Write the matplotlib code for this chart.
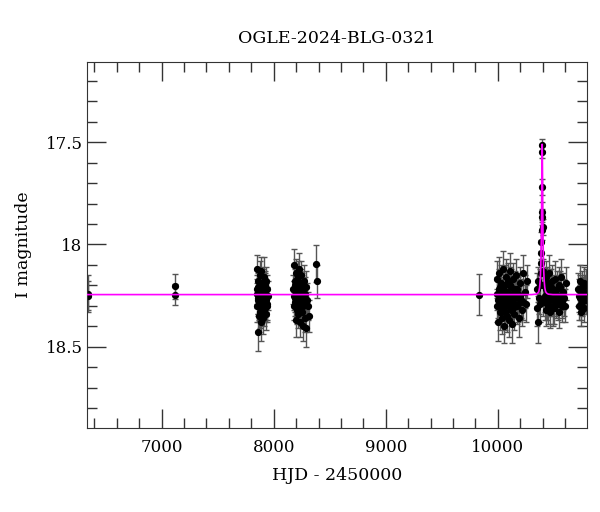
import matplotlib
matplotlib.use("Agg")
import matplotlib.pyplot as plt
from matplotlib.ticker import MultipleLocator, FormatStrFormatter

# --- data (HJD - 2450000, I mag, error) ---
t_early = [6342, 6346, 7118, 7121]
m_early = [18.24, 18.25, 18.205, 18.245]
e_early = [0.09, 0.07, 0.06, 0.05]

t_2016 = [7850, 7852, 7855, 7858, 7861, 7864, 7866, 7869, 7872, 7875,
          7877, 7880, 7883, 7886, 7888, 7891, 7894, 7897, 7900, 7903,
          7906, 7909, 7912, 7915, 7918, 7921, 7924, 7927, 7930, 7934,
          7938, 7942, 7946,
          7851, 7857, 7863, 7868, 7874, 7879, 7885, 7890, 7896, 7902,
          7908, 7914, 7920, 7926, 7932, 7940]
m_2016 = [18.12, 18.30, 18.22, 18.43, 18.26, 18.18, 18.35, 18.24, 18.29, 18.15,
          18.33, 18.21, 18.27, 18.38, 18.13, 18.25, 18.31, 18.19, 18.28, 18.23,
          18.36, 18.16, 18.26, 18.32, 18.20, 18.29, 18.24, 18.34, 18.18, 18.27,
          18.22, 18.30, 18.25,
          18.24, 18.27, 18.21, 18.30, 18.19, 18.26, 18.23, 18.32, 18.25, 18.20,
          18.28, 18.24, 18.31, 18.22, 18.26, 18.29]
e_2016 = [0.07, 0.08, 0.07, 0.09, 0.08, 0.07, 0.08, 0.07, 0.08, 0.07,
          0.08, 0.07, 0.08, 0.09, 0.07, 0.08, 0.07, 0.08, 0.07, 0.08,
          0.08, 0.10, 0.07, 0.08, 0.07, 0.08, 0.07, 0.08, 0.07, 0.08,
          0.07, 0.08, 0.07,
          0.07, 0.08, 0.07, 0.08, 0.07, 0.08, 0.07, 0.08, 0.07, 0.08,
          0.07, 0.08, 0.07, 0.08, 0.07, 0.08]

t_2017 = [8176, 8180, 8184, 8188, 8192, 8196, 8199, 8202, 8205, 8208,
          8211, 8214, 8217, 8220, 8223, 8226, 8229, 8232, 8235, 8238,
          8241, 8244, 8247, 8250, 8254, 8258, 8262, 8266, 8270, 8275,
          8280, 8286, 8292, 8300, 8310, 8318,
          8178, 8186, 8194, 8201, 8207, 8213, 8219, 8225, 8231, 8237,
          8243, 8249, 8256, 8264, 8272, 8284]
m_2017 = [18.22, 18.10, 18.30, 18.18, 18.26, 18.37, 18.14, 18.24, 18.32, 18.20,
          18.28, 18.16, 18.34, 18.23, 18.27, 18.12, 18.30, 18.21, 18.38, 18.25,
          18.19, 18.29, 18.15, 18.33, 18.22, 18.26, 18.40, 18.18, 18.28, 18.24,
          18.36, 18.21, 18.41, 18.27, 18.30, 18.35,
          18.25, 18.20, 18.28, 18.23, 18.31, 18.26, 18.19, 18.29, 18.24, 18.22,
          18.33, 18.27, 18.21, 18.30, 18.25, 18.28]
e_2017 = [0.07, 0.08, 0.07, 0.08, 0.07, 0.08, 0.07, 0.08, 0.07, 0.08,
          0.07, 0.08, 0.07, 0.08, 0.07, 0.08, 0.07, 0.08, 0.07, 0.08,
          0.07, 0.08, 0.07, 0.08, 0.07, 0.08, 0.07, 0.08, 0.07, 0.08,
          0.07, 0.08, 0.09, 0.08, 0.07, 0.08,
          0.07, 0.08, 0.07, 0.08, 0.07, 0.08, 0.07, 0.08, 0.07, 0.08,
          0.07, 0.08, 0.07, 0.08, 0.07, 0.08]

t_mid = [8381, 8382, 9828]
m_mid = [18.093, 18.18, 18.245]
e_mid = [0.09, 0.08, 0.10]

t_2023 = [9990, 9996, 10002, 10008, 10013, 10018, 10023, 10028, 10033, 10038,
          10043, 10048, 10053, 10058, 10063, 10068, 10073, 10078, 10083, 10088,
          10093, 10098, 10103, 10108, 10113, 10118, 10124, 10130, 10136, 10142,
          10148, 10155, 10162, 10170, 10178, 10186, 10195, 10205, 10215, 10226,
          10238, 10250, 10262,
          9993, 10005, 10016, 10026, 10036, 10046, 10056, 10066, 10076, 10086,
          10096, 10106, 10116, 10127, 10139, 10152, 10166, 10182, 10200, 10220]
m_2023 = [18.17, 18.30, 18.38, 18.22, 18.14, 18.33, 18.26, 18.19, 18.36, 18.28,
          18.12, 18.24, 18.31, 18.40, 18.20, 18.27, 18.16, 18.35, 18.23, 18.29,
          18.18, 18.37, 18.25, 18.13, 18.32, 18.21, 18.28, 18.39, 18.17, 18.26,
          18.34, 18.22, 18.15, 18.30, 18.24, 18.36, 18.19, 18.27, 18.32, 18.14,
          18.23, 18.29, 18.18,
          18.24, 18.27, 18.21, 18.30, 18.25, 18.22, 18.28, 18.33, 18.23, 18.26,
          18.30, 18.20, 18.27, 18.24, 18.31, 18.26, 18.22, 18.29, 18.25, 18.28]
e_2023 = [0.09, 0.08, 0.09, 0.10, 0.08, 0.09, 0.08, 0.09, 0.08, 0.09,
          0.09, 0.08, 0.09, 0.08, 0.10, 0.08, 0.09, 0.08, 0.09, 0.08,
          0.09, 0.08, 0.09, 0.09, 0.08, 0.09, 0.08, 0.09, 0.08, 0.10,
          0.08, 0.09, 0.08, 0.09, 0.08, 0.09, 0.08, 0.09, 0.08, 0.09,
          0.08, 0.09, 0.08,
          0.08, 0.09, 0.08, 0.09, 0.08, 0.09, 0.08, 0.09, 0.08, 0.09,
          0.08, 0.09, 0.08, 0.09, 0.08, 0.09, 0.08, 0.09, 0.08, 0.09]

t_2024 = [10348, 10352, 10357, 10362, 10367, 10372, 10377, 10381, 10384, 10386,
          10388, 10389, 10390, 10391, 10393, 10395, 10397, 10399, 10401, 10403,
          10406,
          10415, 10420, 10425, 10430, 10435, 10440, 10445, 10450, 10455, 10460,
          10466, 10472, 10478, 10484, 10490, 10497, 10504, 10511, 10518, 10525,
          10533, 10541, 10549, 10557, 10566, 10575, 10585, 10596, 10607,
          10418, 10428, 10438, 10448, 10458, 10469, 10481, 10494, 10508, 10522,
          10537, 10553, 10570, 10590]
m_2024 = [18.22, 18.31, 18.18, 18.38, 18.26, 18.20, 18.29, 18.14, 18.09, 18.04,
          17.99, 17.93, 17.84, 17.72, 17.548, 17.515, 17.865, 17.915, 18.13, 18.20,
          18.27,
          18.20, 18.28, 18.16, 18.32, 18.24, 18.19, 18.30, 18.22, 18.27, 18.14,
          18.33, 18.21, 18.26, 18.18, 18.30, 18.24, 18.31, 18.17, 18.27, 18.22,
          18.29, 18.20, 18.33, 18.25, 18.16, 18.28, 18.23, 18.30, 18.19,
          18.25, 18.22, 18.29, 18.26, 18.21, 18.27, 18.24, 18.31, 18.23, 18.28,
          18.25, 18.21, 18.30, 18.26]
e_2024 = [0.08, 0.09, 0.07, 0.10, 0.08, 0.08, 0.09, 0.07, 0.06, 0.06,
          0.05, 0.05, 0.05, 0.04, 0.03, 0.03, 0.04, 0.04, 0.06, 0.07,
          0.08,
          0.08, 0.09, 0.08, 0.08, 0.09, 0.08, 0.09, 0.08, 0.08, 0.09,
          0.08, 0.09, 0.08, 0.08, 0.09, 0.08, 0.08, 0.09, 0.08, 0.09,
          0.08, 0.09, 0.08, 0.08, 0.09, 0.08, 0.09, 0.08, 0.08,
          0.08, 0.09, 0.08, 0.08, 0.09, 0.08, 0.08, 0.09, 0.08, 0.08,
          0.09, 0.08, 0.08, 0.09]

t_2025 = [10716, 10722, 10728, 10734, 10740, 10746, 10752, 10758, 10764, 10770,
          10776, 10782, 10788,
          10719, 10731, 10743, 10755, 10767, 10779, 10791]
m_2025 = [18.22, 18.30, 18.18, 18.26, 18.33, 18.21, 18.28, 18.24, 18.19, 18.31,
          18.25, 18.20, 18.27,
          18.25, 18.22, 18.29, 18.24, 18.27, 18.23, 18.26]
e_2025 = [0.08, 0.07, 0.08, 0.08, 0.07, 0.08, 0.07, 0.08, 0.08, 0.07,
          0.08, 0.08, 0.07,
          0.08, 0.07, 0.08, 0.08, 0.07, 0.08, 0.07]

# microlensing model curve
t_model = [6337, 10300, 10340, 10355, 10365, 10372, 10378, 10383, 10387, 10390,
           10392, 10394, 10395, 10396, 10398, 10400, 10403, 10407, 10412, 10418,
           10425, 10435, 10450, 10490, 10793]
m_model = [18.245, 18.245, 18.243, 18.238, 18.23, 18.21, 18.17, 18.10, 17.98, 17.82,
           17.66, 17.53, 17.51, 17.53, 17.66, 17.82, 17.98, 18.10, 18.17, 18.21,
           18.23, 18.238, 18.243, 18.245, 18.245]

plt.rcParams['font.family'] = ['DejaVu Serif']

fig = plt.figure(figsize=(6.0, 5.12), dpi=100)
ax = fig.add_axes([0.1455, 0.1646, 0.8325, 0.7134])

seasons = [(t_early, m_early, e_early), (t_2016, m_2016, e_2016),
           (t_2017, m_2017, e_2017), (t_mid, m_mid, e_mid),
           (t_2023, m_2023, e_2023), (t_2024, m_2024, e_2024),
           (t_2025, m_2025, e_2025)]
for t, m, e in seasons:
    ax.errorbar(t, m, yerr=e, fmt='o', color='black', markersize=4.2,
                ecolor='#555555', elinewidth=1.0, capsize=2.2, capthick=1.0,
                zorder=2)

ax.plot(t_model, m_model, color='#ff00ff', lw=1.2, zorder=3)

ax.set_xlim(6337, 10793)
ax.set_ylim(18.896, 17.11)

ax.xaxis.set_major_locator(MultipleLocator(1000))
ax.xaxis.set_minor_locator(MultipleLocator(200))
ax.yaxis.set_major_locator(MultipleLocator(0.5))
ax.yaxis.set_minor_locator(MultipleLocator(0.1))
ax.yaxis.set_major_formatter(FormatStrFormatter('%g'))

ax.tick_params(which='both', direction='in', top=True, right=True,
               color='#333333', labelsize=12)
ax.tick_params(which='major', length=14, width=1)
ax.tick_params(which='minor', length=7, width=1)
ax.tick_params(axis='x', pad=8)
for s in ax.spines.values():
    s.set_color('#333333')

ax.set_title('OGLE-2024-BLG-0321', fontsize=12.5, pad=14)
ax.set_xlabel('HJD - 2450000', fontsize=12.5, labelpad=8)
ax.set_ylabel('I magnitude', fontsize=12.5, labelpad=10)

fig.savefig('out.png', dpi=100)
